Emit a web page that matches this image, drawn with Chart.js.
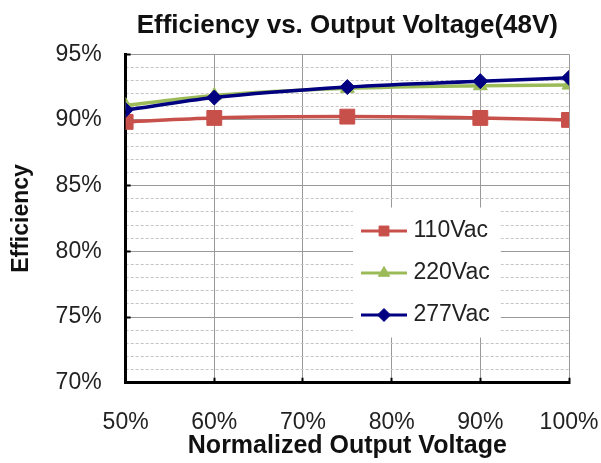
<!DOCTYPE html>
<html><head><meta charset="utf-8">
<script src="https://cdn.jsdelivr.net/npm/chart.js@4"></script>
<style>html,body{margin:0;padding:0;background:#fff}#wrap{width:601px;height:463px;position:relative}</style>
</head><body><div id="wrap"><canvas id="c"></canvas></div>
<script>
// ---- data ----
const outputVoltage = [50, 60, 75, 90, 100];
const eff110 = [89.85, 90.15, 90.25, 90.15, 90.0];
const eff220 = [91.1, 91.85, 92.4, 92.6, 92.65];
const eff277 = [90.75, 91.7, 92.5, 92.95, 93.2];
const seriesNames = ['110Vac', '220Vac', '277Vac'];
const xTickValues = [50, 60, 70, 80, 90, 100];
const yMajorTicks = [70, 75, 80, 85, 90, 95];

const FONT = "'Liberation Sans', Arial, sans-serif";
const colors = ['#C8504B', '#9BBB59', '#000080'];
const styles = ['rect', 'triangle', 'rectRot'];

function makeIcon(color, style) {
  const c = document.createElement('canvas');
  c.width = 48; c.height = 20;
  const g = c.getContext('2d');
  g.strokeStyle = color; g.lineWidth = 3;
  g.beginPath(); g.moveTo(1, 10); g.lineTo(47, 10); g.stroke();
  g.fillStyle = color; g.lineWidth = 1;
  Chart.helpers.drawPoint(g, {pointStyle: style, radius: style === 'rect' ? 7 : 6.5, borderWidth: 1}, 24, 10);
  return c;
}
const icons = colors.map((c, i) => makeIcon(c, styles[i]));

const legendPlace = {
  id: 'legendPlace',
  afterLayout(chart) {
    const lg = chart.legend;
    if (!lg || !lg.legendHitBoxes) return;
    const pad = lg.options.labels.padding;
    const targetX = 366, targetY = 219.5;
    const dx = targetX - (lg.left + pad), dy = targetY - (lg.top + pad);
    lg.left += dx; lg.right += dx; lg.top += dy; lg.bottom += dy;
    lg.legendHitBoxes.forEach(h => { h.left += dx; h.top += dy; });
    if (!lg._wrapped) {
      const orig = lg.draw.bind(lg);
      lg.draw = function () {
        const ctx = this.ctx;
        const hb = this.legendHitBoxes;
        let maxW = 0; hb.forEach(h => { maxW = Math.max(maxW, h.width); });
        const p = this.options.labels.padding;
        const x0 = this.left + p - 13, y0 = this.top + p - 12;
        const last = hb[hb.length - 1];
        ctx.save(); ctx.fillStyle = '#fff';
        ctx.fillRect(x0, y0, maxW + 24, (last.top + last.height) - y0 + 11);
        ctx.restore();
        orig();
      };
      lg._wrapped = true;
    }
  }
};

const datasets = [eff110, eff220, eff277].map((vals, i) => ({
  label: seriesNames[i],
  data: outputVoltage.map((x, j) => ({x: x, y: vals[j]})),
  borderColor: colors[i],
  backgroundColor: colors[i],
  borderWidth: 3.5,
  pointStyle: styles[i],
  pointRadius: i === 0 ? 10.5 : (i === 1 ? 8 : 7.5),
  pointBorderWidth: 1,
  tension: 0.4,
  cubicInterpolationMode: 'monotone',
  order: 3 - i
}));

new Chart(document.getElementById('c'), {
  type: 'line',
  data: {datasets},
  options: {
    responsive: true, maintainAspectRatio: false, animation: false,
    layout: {padding: {left: 0, right: 32, top: 0, bottom: 2}},
    plugins: {
      tooltip: {enabled: false},
      title: {
        display: true, text: 'Efficiency vs. Output Voltage(48V)', fullSize: false,
        color: '#111', font: {family: FONT, size: 26, weight: 'bold', lineHeight: 1.2},
        padding: {top: 10, bottom: 13}
      },
      legend: {
        position: 'chartArea', align: 'start',
        labels: {
          usePointStyle: true, pointStyleWidth: 36, padding: 19,
          color: '#222', font: {family: FONT, size: 23},
          generateLabels: (chart) => chart.data.datasets.map((ds, i) => ({
            text: ds.label, pointStyle: icons[i], fillStyle: ds.borderColor,
            strokeStyle: ds.borderColor, lineWidth: 0, hidden: false, datasetIndex: i, fontColor: '#222'
          }))
        }
      }
    },
    scales: {
      x: {
        type: 'linear', min: 50, max: 100,
        afterBuildTicks: (s) => { s.ticks = xTickValues.map(v => ({value: v})); },
        ticks: {callback: v => v + '%', color: '#222', font: {family: FONT, size: 23, lineHeight: 3.75}, padding: 2, maxRotation: 0},
        grid: {color: '#999', lineWidth: 1, tickLength: -5, tickColor: '#000', tickWidth: 2},
        border: {color: '#000', width: 3},
        title: {display: true, text: 'Normalized Output Voltage', color: '#111',
                font: {family: FONT, size: 25, weight: 'bold', lineHeight: 1.2}, padding: {top: -37, bottom: 0}}
      },
      y: {
        min: 70, max: 95,
        afterBuildTicks: (s) => { s.ticks = yMajorTicks.map(v => ({value: v})); },
        ticks: {callback: v => v + '%', color: '#222', font: {family: FONT, size: 23}, padding: 29},
        grid: {color: '#999', lineWidth: 1, tickLength: -5, tickColor: '#000', tickWidth: 2},
        border: {color: '#000', width: 3},
        title: {display: true, text: 'Efficiency', color: '#111',
                font: {family: FONT, size: 23, weight: 'bold', lineHeight: 1.2}, padding: {top: 8, bottom: -9}}
      },
      yMinor: {
        position: 'right', min: 70, max: 95,
        ticks: {display: false, stepSize: 1, autoSkip: false},
        grid: {drawTicks: false, color: (ctx) => (ctx.tick && ctx.tick.value % 5 === 0) ? 'rgba(0,0,0,0)' : '#c4c4c4', lineWidth: 1},
        border: {display: false, dash: [3, 2]}
      }
    }
  },
  plugins: [legendPlace]
});
</script>
</body></html>
